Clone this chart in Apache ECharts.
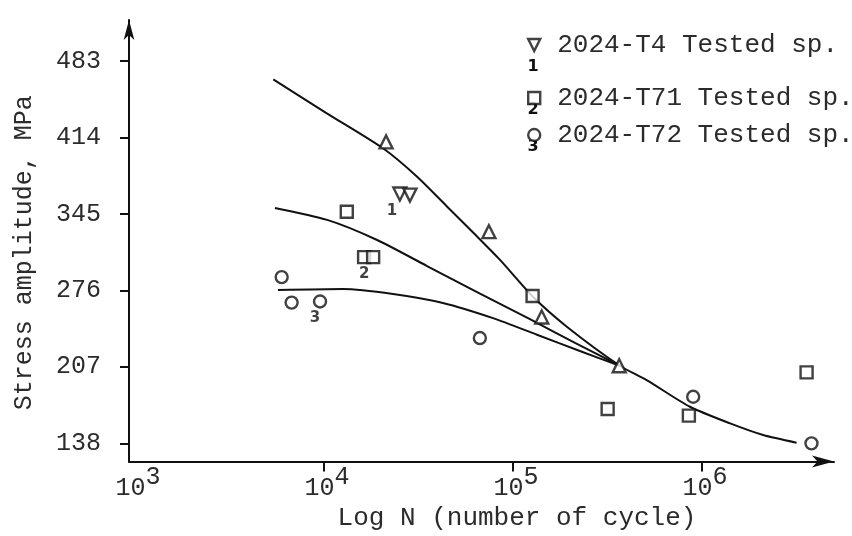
<!DOCTYPE html>
<html><head><meta charset="utf-8">
<script src="https://cdn.jsdelivr.net/npm/echarts@6/dist/echarts.min.js"></script>
<style>html,body{margin:0;padding:0;background:#fff}#c{width:852px;height:536px}</style>
</head><body><div id="c"></div>
<script>
// ---- data (cycles N, stress amplitude MPa) ----
const seriesNames = ['2024-T4 Tested sp.', '2024-T71 Tested sp.', '2024-T72 Tested sp.'];
const xTicks = [1e3, 1e4, 1e5, 1e6];
const yTicks = [138, 207, 276, 345, 414, 483];
const t4Up = [[21300, 410], [74600, 329], [142000, 252], [365000, 208]];
const t4Down = [[25200, 363], [28500, 362]];
const t71Pts = [[13200, 347], [16300, 306], [18200, 306], [127000, 271], [317000, 169], [853000, 163], [3580000, 202]];
const t72Pts = [[5970, 288], [6740, 265], [9530, 266], [66800, 233], [899000, 180], [3800000, 138]];
const curveT4 = [[5390, 466.5], [10300, 436], [20600, 404], [30900, 379], [44600, 352], [61700, 328], [85400, 303.5], [128000, 270], [192000, 243.5], [368000, 208], [510000, 195], [864000, 171], [1410000, 156], [2110000, 145.5], [3170000, 138.6]];
const curveT71 = [[5500, 350.4], [10400, 339.6], [19100, 321.5], [35100, 298], [66900, 273], [123000, 250], [213000, 228.6], [368000, 208]];
const curveT72 = [[5710, 276.4], [12600, 277.3], [23200, 272.8], [42600, 264.7], [78400, 251], [134000, 236], [226000, 221.3], [368000, 208]];
const groupDigits = ['1', '2', '3'];

const INK = '#111';
const TXT = '#2b2b2b';
const MONO = '"Liberation Mono", "DejaVu Sans Mono", monospace';
const markStyle = { color: '#fff', borderColor: INK, borderWidth: 2.4 };
const digitLabel = (txt, offset) => ({
  show: true, formatter: txt, position: 'bottom', distance: 2, offset: offset,
  fontFamily: '"DejaVu Sans", sans-serif', fontWeight: 'bold', fontSize: 15, color: INK
});

const t4Data = t4Up.map(v => ({ value: v }))
  .concat(t4Down.map((v, i) => i === 0
    ? { value: v, symbolRotate: 180, label: digitLabel(groupDigits[0], [-8, 0]) }
    : { value: v, symbolRotate: 180 }));
const t71Data = t71Pts.map((v, i) => i === 1 ? { value: v, label: digitLabel(groupDigits[1], [0, 0]) } : { value: v });
const t72Data = t72Pts.map((v, i) => i === 2 ? { value: v, label: digitLabel(groupDigits[2], [-5, 0]) } : { value: v });

const lineSeries = (data) => ({
  type: 'line', data: data, smooth: 0.25, showSymbol: false, silent: true,
  lineStyle: { color: INK, width: 2 }, z: 2
});

const legendIcons = ['path://M0,0L12,0L6,12Z', 'rect', 'circle'];
const legendTops = [32, 85, 122];
const legends = seriesNames.map((n, i) => ({
  data: [{ name: n, icon: legendIcons[i], itemStyle: { color: '#fff', borderColor: INK, borderWidth: 2.4 } }],
  left: 527, top: legendTops[i], padding: 0, itemWidth: 12, itemHeight: 12,
  selectedMode: false,
  textStyle: { fontFamily: MONO, fontSize: 26, lineHeight: 26, color: TXT, padding: [0, 0, 0, 12] }
}));
const legendDigitPos = [[533, 67], [533, 110], [533, 147]];

const chart = echarts.init(document.getElementById('c'), null, { renderer: 'canvas' });
chart.setOption({
  backgroundColor: '#fff',
  animation: false,
  grid: { left: 129, right: 18, top: 20, bottom: 74.5, containLabel: false, outerBoundsMode: 'none' },
  legend: legends,
  graphic: legendDigitPos.map((p, i) => ({
    type: 'text', x: p[0], y: p[1], silent: true,
    style: { text: groupDigits[i], align: 'center', verticalAlign: 'middle',
      font: 'bold 16px "DejaVu Sans", sans-serif', fill: INK }
  })),
  xAxis: {
    type: 'log', logBase: 10, min: 929, max: 5e6,
    axisLine: { onZero: false, lineStyle: { color: INK, width: 2 }, symbol: ['none', 'arrow'], symbolSize: [9, 22] },
    axisTick: { show: true, length: 10, lineStyle: { color: INK, width: 2 }, customValues: xTicks.slice(1) },
    minorTick: { show: false },
    splitLine: { show: false },
    axisLabel: {
      customValues: xTicks, margin: 9, color: TXT,
      formatter: v => { const e = v > 100 ? Math.round(Math.log10(v)) : Math.round(v); return '{b|10}{s|' + e + '}'; },
      rich: {
        b: { fontFamily: MONO, fontSize: 25, lineHeight: 24, padding: [11, 0, 0, 6], color: TXT },
        s: { fontFamily: MONO, fontSize: 25, lineHeight: 24, padding: [0, 0, 11, 0], color: TXT }
      }
    },
    name: 'Log N (number of cycle)', nameLocation: 'middle', nameGap: 38,
    nameTextStyle: { fontFamily: MONO, fontSize: 26, color: TXT, padding: [0, 0, 0, 71] }
  },
  yAxis: {
    type: 'value', min: 121.6, max: 520,
    axisLine: { show: true, onZero: false, lineStyle: { color: INK, width: 2 }, symbol: ['none', 'arrow'], symbolSize: [8, 20] },
    axisTick: { show: true, length: 9, lineStyle: { color: INK, width: 2 }, customValues: yTicks },
    splitLine: { show: false },
    axisLabel: { customValues: yTicks, margin: 28, fontFamily: MONO, fontSize: 25, color: TXT },
    name: 'Stress amplitude, MPa', nameLocation: 'middle', nameGap: 92,
    nameTextStyle: { fontFamily: MONO, fontSize: 25, color: TXT, padding: [0, 24, 0, 0] }
  },
  series: [
    lineSeries(curveT4), lineSeries(curveT71), lineSeries(curveT72),
    { name: seriesNames[0], type: 'scatter', symbol: 'triangle', symbolSize: 13, data: t4Data, itemStyle: markStyle, z: 3 },
    { name: seriesNames[1], type: 'scatter', symbol: 'rect', symbolSize: 12, data: t71Data, itemStyle: markStyle, z: 3 },
    { name: seriesNames[2], type: 'scatter', symbol: 'circle', symbolSize: 12, data: t72Data, itemStyle: markStyle, z: 3 }
  ]
});
</script></body></html>
